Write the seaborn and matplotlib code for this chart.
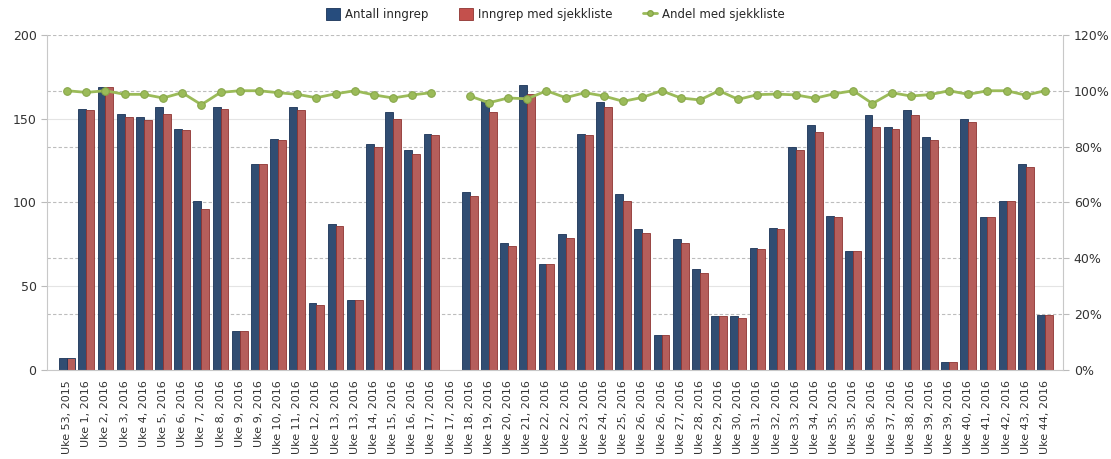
import numpy as np
import pandas as pd
import matplotlib
matplotlib.use("Agg")
import matplotlib.pyplot as plt
from matplotlib.patches import Patch
from matplotlib.lines import Line2D
from matplotlib.ticker import MultipleLocator, FuncFormatter
import seaborn as sns

# Week labels (some weeks appear twice in the source chart)
labels = ["Uke 53, 2015", "Uke 1, 2016", "Uke 2, 2016", "Uke 3, 2016", "Uke 4, 2016",
          "Uke 5, 2016", "Uke 6, 2016", "Uke 7, 2016", "Uke 8, 2016", "Uke 9, 2016",
          "Uke 9, 2016", "Uke 10, 2016", "Uke 11, 2016", "Uke 12, 2016", "Uke 13, 2016",
          "Uke 13, 2016", "Uke 14, 2016", "Uke 15, 2016", "Uke 16, 2016", "Uke 17, 2016",
          "Uke 17, 2016", "Uke 18, 2016", "Uke 19, 2016", "Uke 20, 2016", "Uke 21, 2016",
          "Uke 22, 2016", "Uke 22, 2016", "Uke 23, 2016", "Uke 24, 2016", "Uke 25, 2016",
          "Uke 26, 2016", "Uke 26, 2016", "Uke 27, 2016", "Uke 28, 2016", "Uke 29, 2016",
          "Uke 30, 2016", "Uke 31, 2016", "Uke 32, 2016", "Uke 33, 2016", "Uke 34, 2016",
          "Uke 35, 2016", "Uke 35, 2016", "Uke 36, 2016", "Uke 37, 2016", "Uke 38, 2016",
          "Uke 39, 2016", "Uke 39, 2016", "Uke 40, 2016", "Uke 41, 2016", "Uke 42, 2016",
          "Uke 43, 2016", "Uke 44, 2016"]

antall = [7, 156, 169, 153, 151, 157, 144, 101, 157, 23,
          123, 138, 157, 40, 87, 42, 135, 154, 131, 141,
          np.nan, 106, 161, 76, 170, 63, 81, 141, 160, 105,
          84, 21, 78, 60, 32, 32, 73, 85, 133, 146,
          92, 71, 152, 145, 155, 139, 5, 150, 91, 101,
          123, 33]

med_sjekkliste = [7, 155, 169, 151, 149, 153, 143, 96, 156, 23,
                  123, 137, 155, 39, 86, 42, 133, 150, 129, 140,
                  np.nan, 104, 154, 74, 165, 63, 79, 140, 157, 101,
                  82, 21, 76, 58, 32, 31, 72, 84, 131, 142,
                  91, 71, 145, 144, 152, 137, 5, 148, 91, 101,
                  121, 33]

andel = [100, 99.4, 100, 98.7, 98.7, 97.4, 99.3, 95.0, 99.4, 100,
         100, 99.3, 98.7, 97.5, 98.9, 100, 98.5, 97.4, 98.5, 99.3,
         np.nan, 98.1, 95.7, 97.4, 97.1, 100, 97.5, 99.3, 98.1, 96.2,
         97.6, 100, 97.4, 96.7, 100, 96.9, 98.6, 98.8, 98.5, 97.3,
         98.9, 100, 95.4, 99.3, 98.1, 98.6, 100, 98.7, 100, 100,
         98.4, 100]

series_names = ["Antall inngrep", "Inngrep med sjekkliste", "Andel med sjekkliste"]
blue = "#264c7d"
red = "#c4504c"
green = "#9bbb59"

sns.set_style("white")
plt.rcParams["font.family"] = ["DejaVu Sans"]

pos = list(range(len(labels)))
bars = pd.DataFrame({
    "pos": pos * 2,
    "value": antall + med_sjekkliste,
    "serie": [series_names[0]] * len(pos) + [series_names[1]] * len(pos),
})
line = pd.DataFrame({"pos": pos, "andel": andel})
# break the line where a week has no data
line["seg"] = (line["andel"].isna()).cumsum()
line = line.dropna()

fig, ax = plt.subplots(figsize=(11.11, 4.59), dpi=100)
fig.subplots_adjust(left=0.0423, right=0.957, top=0.924, bottom=0.194)

# grid lines drawn on the bar axis so they stay behind the bars
for y in [50, 150]:
    ax.axhline(y, color="#e4e4e4", lw=0.8, zorder=0)
for p in [20, 40, 60, 80, 100, 120]:
    ax.axhline(p * 200 / 120, color="#bdbdbd", lw=0.8, linestyle=(0, (3, 2)), zorder=0)

sns.barplot(data=bars, x="pos", y="value", hue="serie", order=pos,
            palette=[blue, red], width=0.82, errorbar=None, ax=ax,
            linewidth=0.6, legend=False, zorder=2)
for patch, ec in zip(ax.patches, [blue] * len(pos) + [red] * len(pos)):
    patch.set_edgecolor("#1a3357" if ec == blue else "#8e3431")

ax.set_xlim(-1.05, 51.95)
ax.set_ylim(0, 200)
ax.yaxis.set_major_locator(MultipleLocator(50))
ax.set_xticks(pos)
ax.set_xticklabels(labels, rotation=90, fontsize=8, color="#333333")
ax.tick_params(axis="y", labelsize=9, colors="#333333", length=4, color="#bbbbbb")
ax.tick_params(axis="x", length=4, color="#bbbbbb")
ax.set_xlabel("")
ax.set_ylabel("")

ax2 = ax.twinx()
sns.lineplot(data=line, x="pos", y="andel", units="seg", estimator=None,
             color=green, lw=2, marker="o", markersize=5.5,
             markerfacecolor=green, markeredgecolor="#86a548", ax=ax2)
ax2.set_ylim(0, 120)
ax2.yaxis.set_major_locator(MultipleLocator(20))
ax2.yaxis.set_major_formatter(FuncFormatter(lambda v, _: f"{v:.0f}%"))
ax2.tick_params(axis="y", labelsize=9, colors="#333333", length=4, color="#bbbbbb")
ax2.set_ylabel("")
ax2.grid(False)

for a in (ax, ax2):
    a.spines["top"].set_visible(False)
    for s in ("left", "right", "bottom"):
        a.spines[s].set_color("#c8c8c8")
ax.spines["right"].set_visible(False)
ax2.spines["left"].set_visible(False)
ax2.spines["bottom"].set_visible(False)

handles = [Patch(facecolor=blue, edgecolor="#1a3357", lw=0.6),
           Patch(facecolor=red, edgecolor="#8e3431", lw=0.6),
           Line2D([0], [0], color=green, lw=2, marker="o", markersize=4,
                  markerfacecolor=green, markeredgecolor="#86a548")]
fig.legend(handles, series_names, loc="upper center", bbox_to_anchor=(0.50, 1.005),
           ncol=3, frameon=False, fontsize=8.5, handlelength=1.2, handleheight=1.2,
           columnspacing=2.6, handletextpad=0.4)

fig.savefig("out.png", dpi=100)
